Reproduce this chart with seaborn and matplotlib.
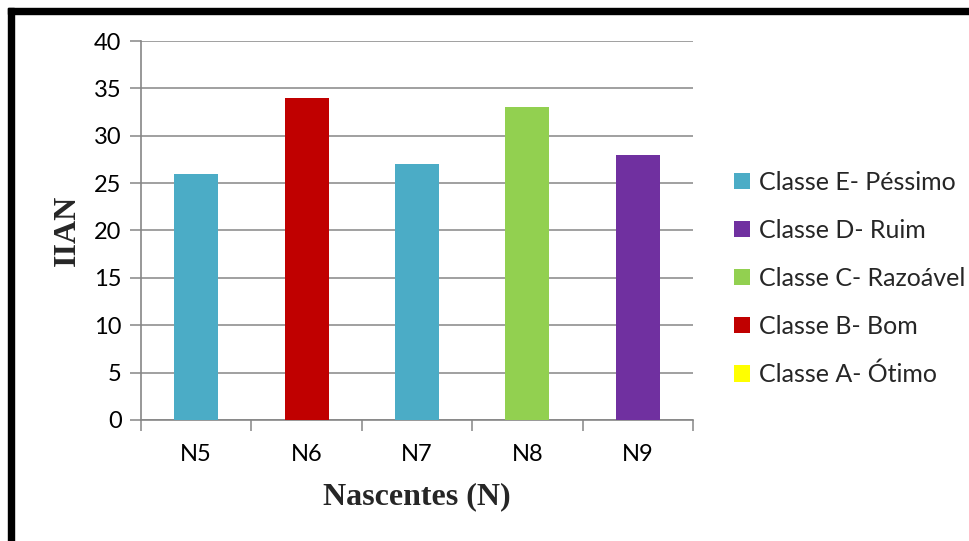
import matplotlib
matplotlib.use("Agg")
import matplotlib.pyplot as plt
from matplotlib.patches import Patch, Rectangle
from matplotlib.ticker import FixedLocator
import seaborn as sns
import pandas as pd

# Data
nascentes = ["N5", "N6", "N7", "N8", "N9"]
iian = [26, 34, 27, 33, 28]
classe = ["Classe E- Péssimo", "Classe B- Bom", "Classe E- Péssimo",
          "Classe C- Razoável", "Classe D- Ruim"]
legend_labels = ["Classe E- Péssimo", "Classe D- Ruim", "Classe C- Razoável",
                 "Classe B- Bom", "Classe A- Ótimo"]
legend_colors = ["#4BACC6", "#7030A0", "#92D050", "#C00000", "#FFFF00"]
y_ticks = [0, 5, 10, 15, 20, 25, 30, 35, 40]

df = pd.DataFrame({"Nascente": nascentes, "IIAN": iian, "Classe": classe})
palette = dict(zip(legend_labels, legend_colors))

sns.set_theme(style="white")
plt.rcParams["font.family"] = ["Lato", "DejaVu Sans"]

fig = plt.figure(figsize=(9.70, 5.41), dpi=100)
ax = fig.add_axes([0.1454, 0.2237, 0.7144 - 0.1454, 0.9242 - 0.2237])

sns.barplot(data=df, x="Nascente", y="IIAN", hue="Classe", order=nascentes,
            hue_order=legend_labels, palette=palette, dodge=False,
            width=0.4, saturation=1, legend=False, linewidth=0,
            ax=ax, zorder=3)

grid_color = "#868686"
ax.set_ylim(0, 40)
ax.set_xlim(-0.5, 4.5)
ax.set_yticks(y_ticks)
ax.yaxis.grid(True, color=grid_color, linewidth=1.1, zorder=0)
ax.xaxis.grid(False)
for side in ["top", "right"]:
    ax.spines[side].set_visible(False)
for side in ["left", "bottom"]:
    ax.spines[side].set_color(grid_color)
    ax.spines[side].set_linewidth(1.2)

ax.tick_params(axis="y", which="major", direction="out", length=8, width=1.1,
               color=grid_color, labelsize=17, pad=6, left=True)
ax.tick_params(axis="x", which="major", length=0, labelsize=17, pad=17)
ax.xaxis.set_minor_locator(FixedLocator([-0.5, 0.5, 1.5, 2.5, 3.5, 4.5]))
ax.tick_params(axis="x", which="minor", direction="out", length=8, width=1.1,
               color=grid_color, bottom=True)
for lbl in ax.get_xticklabels() + ax.get_yticklabels():
    lbl.set_color("black")

ax.set_xlabel("Nascentes (N)", fontsize=23, fontweight="bold",
              family="Liberation Serif", labelpad=13)
ax.set_ylabel("IIAN", fontsize=23, fontweight="bold",
              family="Liberation Serif", labelpad=9)

handles = [Patch(facecolor=c, edgecolor="none") for c in legend_colors]
fig.legend(handles, legend_labels, loc="center left",
           bbox_to_anchor=(0.7335, 0.485), frameon=False, fontsize=18,
           handlelength=0.65, handleheight=0.65, handletextpad=0.35,
           labelspacing=1.0)

# Outer frame (left and top edges)
fig.patches.append(Rectangle((8 / 970, 0), 6 / 970, 1 - 8 / 541,
                             transform=fig.transFigure, color="black",
                             zorder=10))
fig.patches.append(Rectangle((8 / 970, 1 - 14 / 541), 1, 6 / 541,
                             transform=fig.transFigure, color="black",
                             zorder=10))

fig.savefig("out.png", dpi=100, facecolor="white")
